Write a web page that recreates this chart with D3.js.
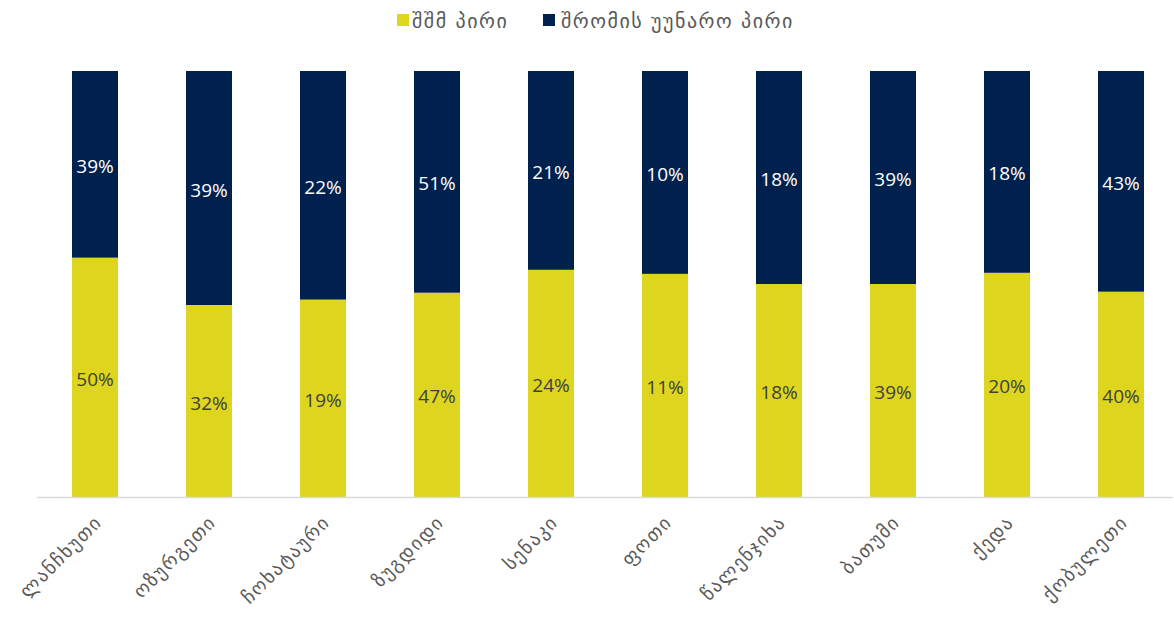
<!DOCTYPE html>
<html><head><meta charset="utf-8">
<script src="https://cdn.jsdelivr.net/npm/d3@7"></script>
<style>body{margin:0;background:#fff}svg{display:block}</style>
</head><body>
<svg id="c" width="1174" height="622"></svg>
<script>
const categories = ["ლანჩხუთი","ოზურგეთი","ჩოხატაური","ზუგდიდი","სენაკი","ფოთი","წალენჯიხა","ბათუმი","ქედა","ქობულეთი"];
const seriesNames = ["შშმ პირი","შრომის უუნარო პირი"];
const disabled = [50,32,19,47,24,11,18,39,20,40];
const incapable = [39,39,22,51,21,10,18,39,18,43];
const colors = ["#DED51F","#00214D"];
const labelColors = ["#404040","#ffffff"];

const svg = d3.select("#c");
const y = d3.scaleLinear().domain([0,1]).range([497,71]);
const rows = categories.map((c,i)=>({cat:c, a:disabled[i], b:incapable[i]}));
const xs = d3.scaleBand().domain(categories).range([38,1178]);
const bw = 46;

rows.forEach(r=>{
  const tot = r.a + r.b;
  const segs = [{v:r.a, y0:0, y1:r.a/tot, k:0},{v:r.b, y0:r.a/tot, y1:1, k:1}];
  const cx = xs(r.cat) + xs.bandwidth()/2;
  segs.forEach(s=>{
    svg.append("rect").attr("x",cx-bw/2).attr("width",bw)
      .attr("y",y(s.y1)).attr("height",y(s.y0)-y(s.y1)).attr("fill",colors[s.k]);
    svg.append("text").attr("x",cx).attr("y",(y(s.y0)+y(s.y1))/2)
      .attr("dy","0.45em").attr("text-anchor","middle")
      .attr("font-family","Open Sans, sans-serif").attr("font-size",19)
      .attr("fill",labelColors[s.k]).text(s.v+"%");
  });
});

// axis
const ax = svg.append("g").attr("transform","translate(0,497.5)").call(d3.axisBottom(xs).tickSize(0).tickPadding(0));
ax.select(".domain").attr("stroke","#d9d9d9").attr("stroke-width",1.5).attr("d","M37,0H1173");
ax.selectAll(".tick text")
  .attr("font-family","DejaVu Sans, sans-serif").attr("font-size",19).attr("letter-spacing",1.5).attr("fill","#595959")
  .attr("text-anchor","end").attr("dy",null).attr("y",0)
  .attr("transform","translate(8,26) rotate(-45)");

// legend
const leg = [{x:397, tx:412},{x:543, tx:561}];
seriesNames.forEach((n,i)=>{
  svg.append("rect").attr("x",leg[i].x).attr("y",14).attr("width",12).attr("height",12).attr("fill",colors[i]);
  svg.append("text").attr("x",leg[i].tx).attr("y",21).attr("dy","0.35em")
    .attr("font-family","DejaVu Sans, sans-serif").attr("font-size",20).attr("letter-spacing",1.5).attr("fill","#595959").text(n);
});
</script>
</body></html>
